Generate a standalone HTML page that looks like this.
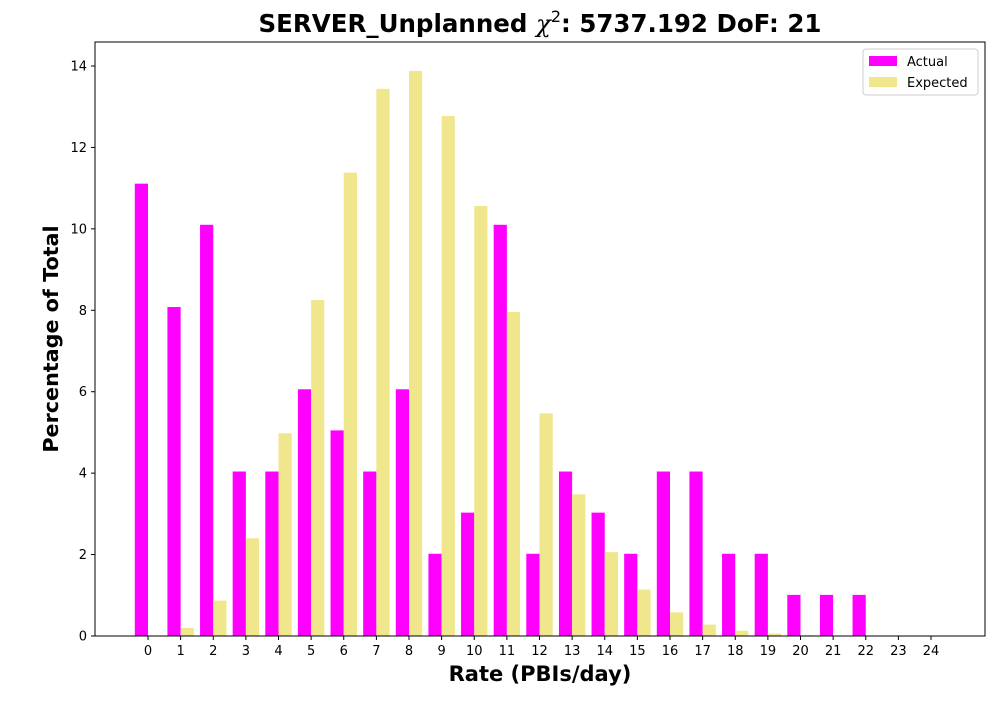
<!DOCTYPE html>
<html><head><meta charset="utf-8"><style>
body{margin:0;background:#fff;}
svg text{font-family:"DejaVu Sans","Liberation Sans",sans-serif;}
</style></head><body>
<svg id="chart" width="1000" height="700" xmlns="http://www.w3.org/2000/svg">
<rect width="1000" height="700" fill="#fff"/>
<text x="540" y="32" text-anchor="middle" font-size="24.5" font-weight="bold">SERVER_Unplanned <tspan font-style="italic" font-weight="normal" font-family="DejaVu Serif, serif">χ</tspan><tspan font-size="16" font-weight="normal" dy="-10">2</tspan><tspan dy="10">: 5737.192 DoF: 21</tspan></text>
<g id="plot"></g>
<rect x="95" y="42" width="890" height="594" fill="none" stroke="#000" stroke-width="1"/>
<text x="540" y="681" text-anchor="middle" font-size="21" font-weight="bold">Rate (PBIs/day)</text>
<text transform="translate(58,339) rotate(-90)" text-anchor="middle" font-size="20.7" font-weight="bold">Percentage of Total</text>
<g>
<rect x="863" y="49" width="115" height="46" fill="#fff" stroke="#ccc" rx="3"/>
<rect x="869" y="56" width="28" height="10" fill="#ff00ff"/>
<text x="907" y="66" font-size="13">Actual</text>
<rect x="869" y="77" width="28" height="10" fill="#f0e68c"/>
<text x="907" y="87" font-size="13">Expected</text>
</g>
</svg>
<script>
const categories=[0,1,2,3,4,5,6,7,8,9,10,11,12,13,14,15,16,17,18,19,20,21,22,23,24];
const actualValues=[11.11,8.08,10.10,4.04,4.04,6.06,5.05,4.04,6.06,2.02,3.03,10.10,2.02,4.04,3.03,2.02,4.04,4.04,2.02,2.02,1.01,1.01,1.01,0,0];
const expectedValues=[0.01,0.2,0.87,2.4,4.98,8.25,11.38,13.44,13.88,12.77,10.56,7.96,5.47,3.48,2.06,1.14,0.58,0.28,0.13,0.06,0.02,0.01,0,0,0];
const yTicks=[0,2,4,6,8,10,12,14];
const NS="http://www.w3.org/2000/svg";
const g=document.getElementById('plot');
function xScale(i){return 148+i*(931-148)/24;}
function yScale(v){return 636-v*570/14;}
const bw=13.2;
function mk(tag,attrs){const e=document.createElementNS(NS,tag);for(const k in attrs)e.setAttribute(k,attrs[k]);g.appendChild(e);return e;}
categories.forEach((c,i)=>{
  const cx=xScale(i);
  let a=mk('rect',{x:cx-bw,y:yScale(actualValues[i]),width:bw,height:636-yScale(actualValues[i]),fill:'#ff00ff'});
  
  
  let e=mk('rect',{x:cx,y:yScale(expectedValues[i]),width:bw,height:636-yScale(expectedValues[i]),fill:'#f0e68c'});
  
  
  mk('line',{x1:cx,x2:cx,y1:636,y2:640,stroke:'#000'});
  let t=mk('text',{x:cx,y:655,'text-anchor':'middle','font-size':13});
  t.textContent=c;
  
  
});
yTicks.forEach(v=>{
  const y=yScale(v);
  mk('line',{x1:91,x2:95,y1:y,y2:y,stroke:'#000'});
  let t=mk('text',{x:87,y:y+4.5,'text-anchor':'end','font-size':13});
  t.textContent=v;
  
  
});
</script>
</body></html>
